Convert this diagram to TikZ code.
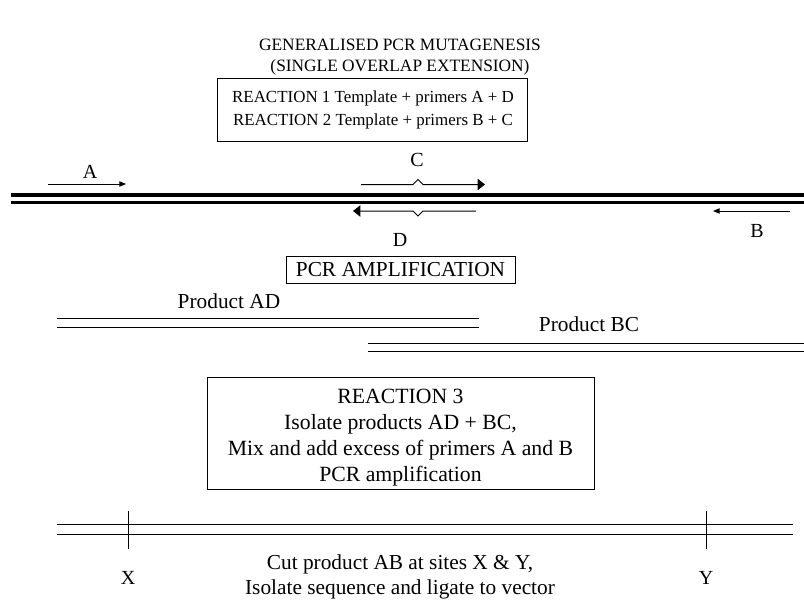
\documentclass[tikz,border=0pt]{standalone}
\usepackage{fontspec}
\setmainfont{Liberation Serif}
\usetikzlibrary{arrows.meta}
\begin{document}
\begin{tikzpicture}[x=0.75pt,y=-0.75pt,
  txt/.style={font=\fontsize{16pt}{19pt}\selectfont, inner sep=0pt, align=center},
  lbl/.style={font=\fontsize{15pt}{18pt}\selectfont, inner sep=0pt},
  boxed/.style={draw, line width=0.75pt, align=center, inner sep=0pt},
  thin/.style={line width=0.75pt},
  smallarr/.style={thin, -{Triangle[length=5pt,width=4pt]}},
  bigarr/.style={thin, -{Triangle[length=5.5pt,width=8.5pt]}}]
\useasboundingbox (0,0) rectangle (804,600);
% title
\node[txt, font=\fontsize{13pt}{16pt}\selectfont] (t1) at (400,45) {GENERALISED PCR MUTAGENESIS};
\node[txt, font=\fontsize{13pt}{16pt}\selectfont] (t2) at (400,67) {(SINGLE OVERLAP EXTENSION)};
% reaction box 1
\node[boxed, minimum width=310*0.75pt, minimum height=63*0.75pt] (r12) at (372,109.5) {};
\node[txt, font=\fontsize{12.7pt}{17.3pt}\selectfont] (r12t) at (373,110)
  {REACTION 1 Template + primers A + D\\REACTION 2 Template + primers B + C};
% template strands
\coordinate (s1l) at (11,195); \coordinate (s1r) at (804,195);
\coordinate (s2l) at (11,202.5); \coordinate (s2r) at (804,202.5);
\draw[line width=2.6pt] (s1l) -- (s1r);
\draw[line width=1.8pt] (s2l) -- (s2r);
% primer A
\coordinate (a1) at (48,184); \coordinate (a2) at (126,184);
\draw[smallarr] (a1) -- (a2);
\node[lbl] (la) at (90,172) {A};
% primer C
\coordinate (c1) at (361,184.5); \coordinate (c2) at (485,184.5);
\draw[bigarr] (c1) -- (413,184.5) -- (418,179.5) -- (423,184.5) -- (c2);
\node[lbl] (lc) at (417,160) {C};
% primer D
\coordinate (d1) at (476,211); \coordinate (d2) at (353,211);
\draw[bigarr] (d1) -- (423,211) -- (418,216) -- (413,211) -- (d2);
\node[lbl] (ld) at (400,240) {D};
% primer B
\coordinate (b1) at (790,211); \coordinate (b2) at (713,211);
\draw[smallarr] (b1) -- (b2);
\node[lbl] (lb) at (757,230.5) {B};
% PCR amplification box
\node[boxed, minimum width=229*0.75pt, minimum height=27*0.75pt, font=\fontsize{16pt}{19pt}\selectfont] (pcr) at (400.5,269.5) {PCR AMPLIFICATION};
% product AD
\node[txt] (pad) at (229,301) {Product AD};
\coordinate (ad1l) at (57,318); \coordinate (ad1r) at (479,318);
\coordinate (ad2l) at (57,327); \coordinate (ad2r) at (479,327);
\draw[thin] (ad1l) -- (ad1r);
\draw[thin] (ad2l) -- (ad2r);
% product BC
\node[txt] (pbc) at (589,324) {Product BC};
\coordinate (bc1l) at (368,343); \coordinate (bc1r) at (804,343);
\coordinate (bc2l) at (368,351); \coordinate (bc2r) at (804,351);
\draw[thin] (bc1l) -- (bc1r);
\draw[thin] (bc2l) -- (bc2r);
% reaction 3 box
\node[boxed, minimum width=387*0.75pt, minimum height=112*0.75pt] (r3) at (400.5,433) {};
\node[txt, font=\fontsize{16.3pt}{19.5pt}\selectfont] (r3t) at (400.5,438)
  {REACTION 3\\Isolate products AD + BC,\\Mix and add excess of primers A and B\\PCR amplification};
% product AB
\coordinate (ab1l) at (57,524); \coordinate (ab1r) at (793,524);
\coordinate (ab2l) at (57,534); \coordinate (ab2r) at (793,534);
\draw[thin] (ab1l) -- (ab1r);
\draw[thin] (ab2l) -- (ab2r);
\coordinate (x1) at (128,511); \coordinate (x2) at (128,549);
\coordinate (y1) at (706,511); \coordinate (y2) at (706,549);
\draw[thin] (x1) -- (x2);
\draw[thin] (y1) -- (y2);
\node[lbl] (lx) at (128,578) {X};
\node[lbl] (ly) at (706,578) {Y};
\node[txt] (cut1) at (400,564) {Cut product AB at sites X \& Y,};
\node[txt] (cut2) at (400,589) {Isolate sequence and ligate to vector};
\end{tikzpicture}
\end{document}
